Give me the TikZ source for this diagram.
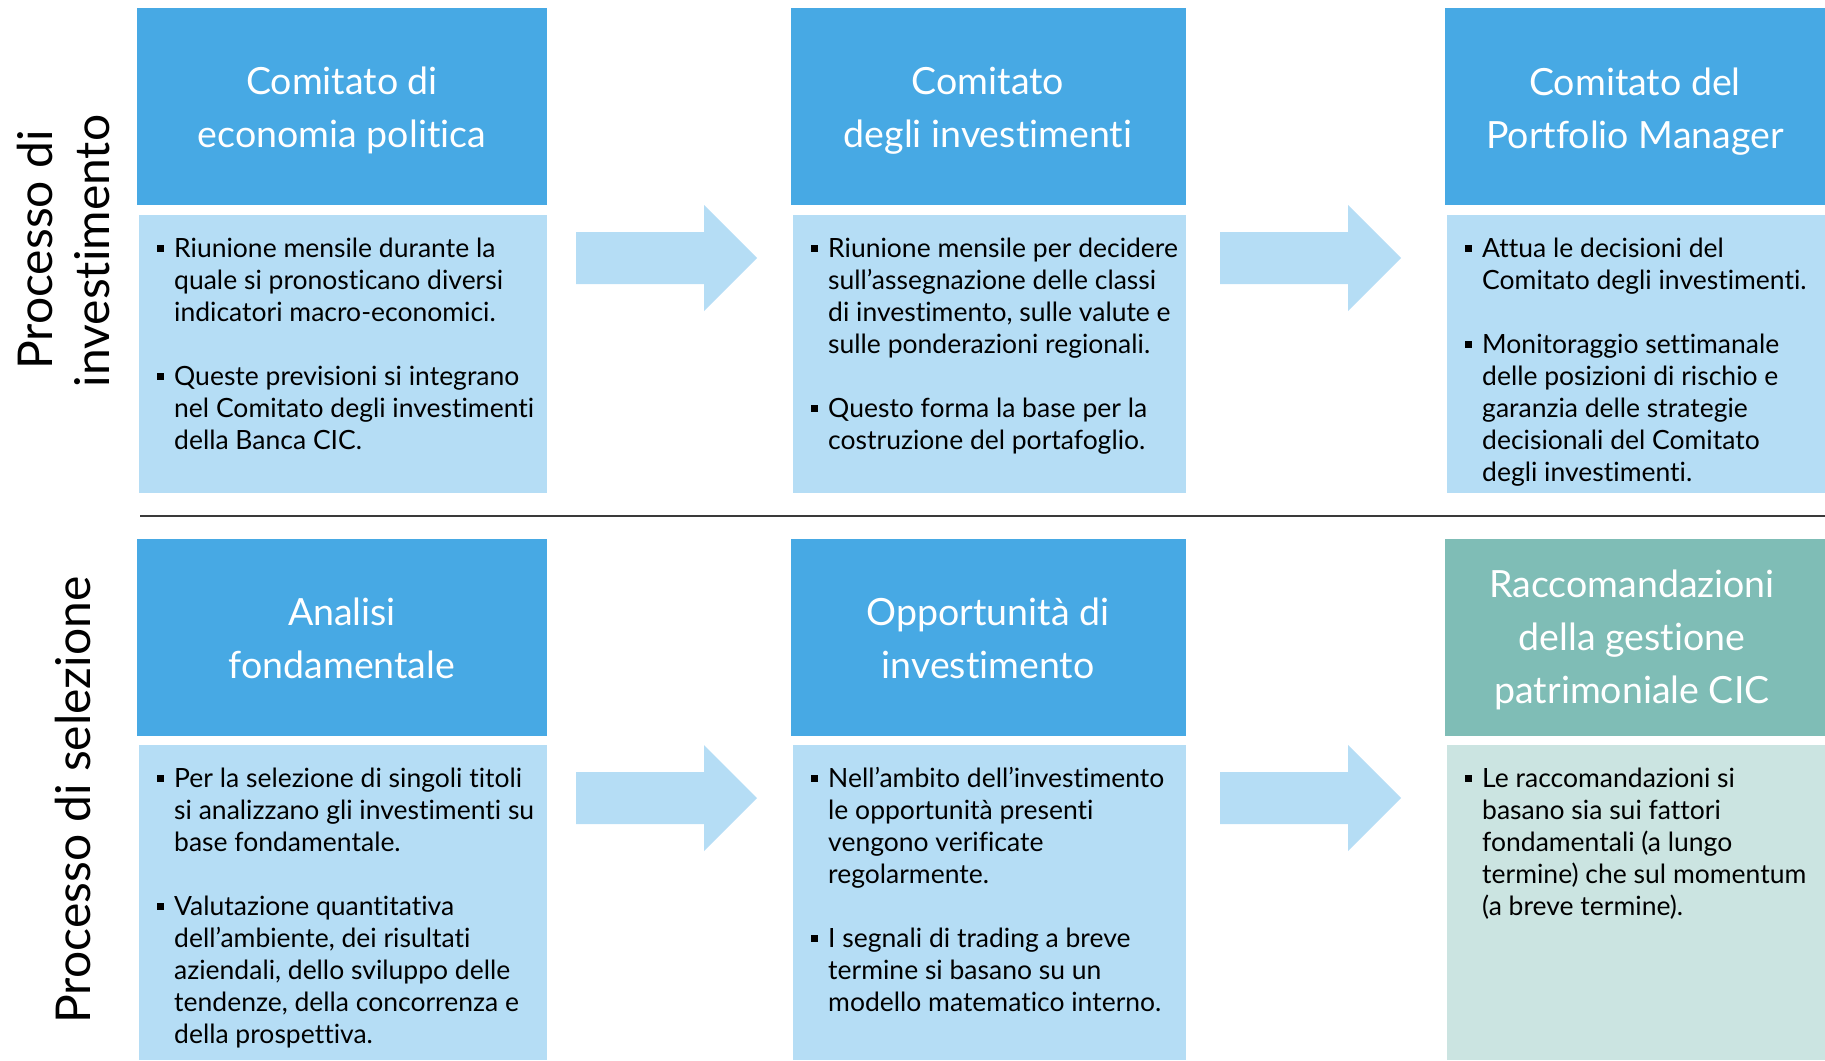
\documentclass[tikz,border=0pt]{standalone}
\usepackage{fontspec}
\setmainfont{Lato}[Ligatures=NoCommon]
\definecolor{hblue}{HTML}{47A9E4}
\definecolor{bblue}{HTML}{B5DDF5}
\definecolor{hteal}{HTML}{7FBDB6}
\definecolor{bteal}{HTML}{CBE4E1}
\definecolor{sepline}{HTML}{3A3A3A}
\newcommand\sqbul{\raisebox{5.5pt}{\rule{7pt}{7pt}}}
\newcommand\bitem[1]{\hangindent=17pt\hangafter=1\noindent\makebox[17pt][l]{\sqbul}#1\par}
\newcommand\bodyblock[1]{\vtop{\hsize=500pt\parindent=0pt\parskip=0pt\raggedright\let\\\newline\fontsize{26.5}{32}\selectfont #1}}
\newcommand\headblock[1]{\vtop{\hsize=420pt\parindent=0pt\parskip=0pt\centering\fontsize{37.5}{53}\selectfont #1\par}}
\newcommand\gap{\vskip32pt}
\begin{document}
\begin{tikzpicture}[x=1pt,y=-1pt,
  panel/.style={inner sep=0pt, outer sep=0pt, anchor=north west},
  htxt/.style={anchor=base, inner sep=0pt, text=white},
  btxt/.style={anchor=base west, inner sep=0pt, text=black},
  lbl/.style={anchor=base, inner sep=0pt, rotate=90, font=\fontsize{48}{56}\selectfont},
  barrow/.style={fill=bblue, draw=none}]
\useasboundingbox (0,0) rectangle (1825,1060);
% header panels row 1
\node[panel, fill=hblue, minimum width=410pt, minimum height=197pt] (H1) at (137,8) {};
\node[panel, fill=hblue, minimum width=395pt, minimum height=197pt] (H2) at (791,8) {};
\node[panel, fill=hblue, minimum width=380pt, minimum height=197pt] (H3) at (1445,8) {};
% body panels row 1
\node[panel, fill=bblue, minimum width=408pt, minimum height=278pt] (B1) at (139,215) {};
\node[panel, fill=bblue, minimum width=393pt, minimum height=278pt] (B2) at (793,215) {};
\node[panel, fill=bblue, minimum width=378pt, minimum height=278pt] (B3) at (1447,215) {};
% header panels row 2
\node[panel, fill=hblue, minimum width=410pt, minimum height=197pt] (H4) at (137,539) {};
\node[panel, fill=hblue, minimum width=395pt, minimum height=197pt] (H5) at (791,539) {};
\node[panel, fill=hteal, minimum width=380pt, minimum height=197pt] (H6) at (1445,539) {};
% body panels row 2
\node[panel, fill=bblue, minimum width=408pt, minimum height=315pt] (B4) at (139,745) {};
\node[panel, fill=bblue, minimum width=393pt, minimum height=315pt] (B5) at (793,745) {};
\node[panel, fill=bteal, minimum width=378pt, minimum height=315pt] (B6) at (1447,745) {};
% separator
\coordinate (S1) at (140,516);
\coordinate (S2) at (1825,516);
\draw[sepline, line width=2pt] (S1) -- (S2);
% block arrows
\fill[barrow] (576,232) -- (704,232) -- (704,205) -- (757,258) -- (704,311) -- (704,284) -- (576,284) -- cycle;
\fill[barrow] (1220,232) -- (1348,232) -- (1348,205) -- (1401,258) -- (1348,311) -- (1348,284) -- (1220,284) -- cycle;
\fill[barrow] (576,772) -- (704,772) -- (704,745) -- (757,798) -- (704,851) -- (704,824) -- (576,824) -- cycle;
\fill[barrow] (1220,772) -- (1348,772) -- (1348,745) -- (1401,798) -- (1348,851) -- (1348,824) -- (1220,824) -- cycle;
% left labels
\node[lbl] (L1a) at (52,250) {Processo di};
\node[lbl] (L1b) at (109,251) {investimento};
\node[lbl] (L2) at (90,800) {Processo di selezione};
% header texts
\node[htxt] (h1) at (342,94) {\headblock{Comitato di\\economia politica}};
\node[htxt] (h2) at (988,94) {\headblock{Comitato\\degli investimenti}};
\node[htxt] (h3) at (1635,95) {\headblock{Comitato del\\Portfolio Manager}};
\node[htxt] (h4) at (342,625) {\headblock{Analisi\\fondamentale}};
\node[htxt] (h5) at (988,625) {\headblock{Opportunità di\\investimento}};
\node[htxt] (h6) at (1632,597) {\headblock{Raccomandazioni\\della gestione\\patrimoniale CIC}};
% body texts
\node[btxt] (t1) at (157,257) {\bodyblock{%
\bitem{Riunione mensile durante la\\quale si pronosticano diversi\\indicatori macro-economici.}\gap
\bitem{Queste previsioni si integrano\\nel Comitato degli investimenti\\della Banca CIC.}}};
\node[btxt] (t2) at (811,257) {\bodyblock{%
\bitem{Riunione mensile per decidere\\sull’assegnazione delle classi\\di investimento, sulle valute e\\sulle ponderazioni regionali.}\gap
\bitem{Questo forma la base per la\\costruzione del portafoglio.}}};
\node[btxt] (t3) at (1465,257) {\bodyblock{%
\bitem{Attua le decisioni del\\Comitato degli investimenti.}\gap
\bitem{Monitoraggio settimanale\\delle posizioni di rischio e\\garanzia delle strategie\\decisionali del Comitato\\degli investimenti.}}};
\node[btxt] (t4) at (157,787) {\bodyblock{%
\bitem{Per la selezione di singoli titoli\\si analizzano gli investimenti su\\base fondamentale.}\gap
\bitem{Valutazione quantitativa\\dell’ambiente, dei risultati\\aziendali, dello sviluppo delle\\tendenze, della concorrenza e\\della prospettiva.}}};
\node[btxt] (t5) at (811,787) {\bodyblock{%
\bitem{Nell’ambito dell’investimento\\le opportunità presenti\\vengono verificate\\regolarmente.}\gap
\bitem{I segnali di trading a breve\\termine si basano su un\\modello matematico interno.}}};
\node[btxt] (t6) at (1465,787) {\bodyblock{%
\bitem{Le raccomandazioni si\\basano sia sui fattori\\fondamentali (a lungo\\termine) che sul momentum\\(a breve termine).}}};
\end{tikzpicture}
\end{document}
